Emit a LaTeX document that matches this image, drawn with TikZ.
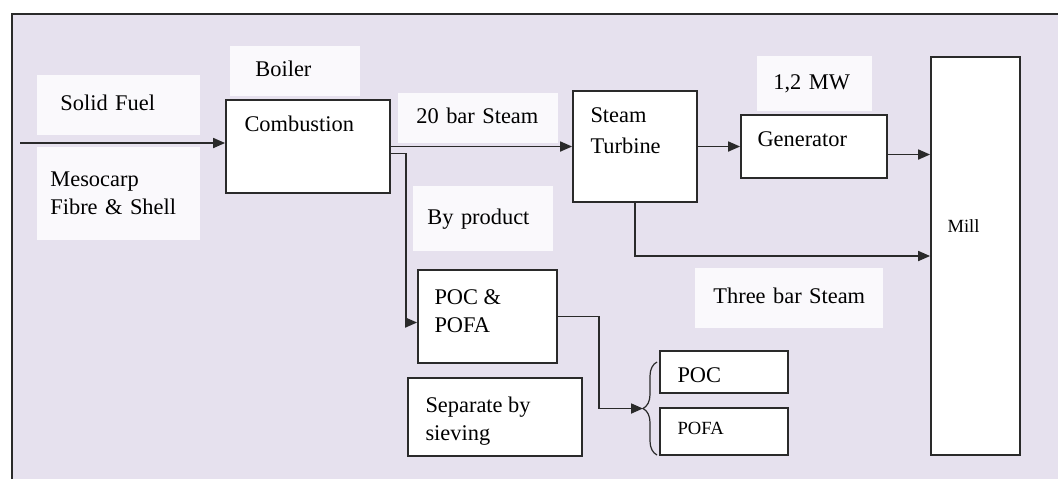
\documentclass[tikz,border=0pt]{standalone}
\usepackage{fontspec}
\setmainfont{Liberation Serif}
\usetikzlibrary{positioning, arrows.meta, decorations.pathreplacing}
\definecolor{paper}{HTML}{E6E1EE}
\definecolor{tagfill}{HTML}{FAF9FC}
\definecolor{edge}{HTML}{2A2A2A}
\newcommand{\smalltext}{\fontsize{9.3}{11}\selectfont}
\tikzset{
	box/.style={draw=edge, fill=white, line width=0.9pt, inner sep=0pt},
	txt/.style={inner sep=0pt, align=left},
	tag/.style={fill=tagfill, align=left, anchor=west, inner ysep=0pt},
	tagline/.style={tag, text height=8pt, text depth=2.5pt},
	flow/.style={draw=edge, line width=0.9pt, -{Triangle[length=6pt, width=5pt]}},
	curly/.style={draw=edge, line width=0.6pt, decorate, decoration={brace, amplitude=7pt}},
}

\begin{document}
\begin{tikzpicture}[x=0.5pt, y=-0.5pt, font=\fontsize{11.2}{14}\selectfont]
	\useasboundingbox (0,0) rectangle (1058,479);
	\fill[paper] (12,14) rectangle (1058,479);
	\draw[edge, line width=1pt] (12,479) -- (12,14) -- (1058,14);
	
	% white label patches
	\node[tagline, text width=58.5pt, inner xsep=11.5pt, minimum height=30pt] (fuel) at (37,104.5) {Solid Fuel};
	\node[tag, text width=68.5pt, inner xsep=6.5pt, minimum height=46.5pt] (meso) at (37,193.5) {Mesocarp\\Fibre \& Shell};
	\node[tagline, text width=40pt, inner xsep=12.5pt, minimum height=25pt] (boiler) at (230,70.5) {Boiler};
	\node[tagline, text width=62pt, inner xsep=9pt, minimum height=25pt] (hp) at (398,117.5) {20 bar Steam};
	\node[tagline, text width=56pt, inner xsep=7pt, minimum height=32.5pt] (byprod) at (413,218.5) {By product};
	\node[tagline, text width=41.5pt, inner xsep=8pt, minimum height=27.5pt] (power) at (757,83.5) {1,2 MW};
	\node[tagline, text width=76pt, inner xsep=9pt, minimum height=30pt] (lp) at (695,297.5) {Three bar Steam};
	
	% boxes
	\node[box, minimum width=82pt, minimum height=46.5pt] (comb) at (308,146.5) {};
	\node[box, minimum width=62pt, minimum height=55.5pt] (turb) at (635,146.5) {};
	\node[box, minimum width=73pt, minimum height=31.5pt] (gen) at (814,146.5) {};
	\node[box, minimum width=44.5pt, minimum height=199pt] (mill) at (975.5,256) {};
	\node[box, minimum width=69.5pt, minimum height=46.5pt] (pocfa) at (487.5,316.5) {};
	\node[box, minimum width=87pt, minimum height=39pt] (sieve) at (495,417) {};
	\node[box, minimum width=64pt, minimum height=21pt] (poc) at (724,372) {};
	\node[box, minimum width=64pt, minimum height=23.5pt] (pofa) at (724,431.5) {};
	
	\node[txt, below right=8pt and 9.5pt of comb.north west] (combtxt) {Combustion};
	\node[txt, below right=8.5pt and 9pt of turb.north west] (turbtxt) {Steam\\[1.5pt]Turbine};
	\node[txt, below right=8.5pt and 8.5pt of gen.north west] (gentxt) {Generator};
	\node[txt, font=\smalltext, below right=81.5pt and 8.5pt of mill.north west] (milltxt) {Mill};
	\node[txt, below right=10pt and 8.5pt of pocfa.north west] (pocfatxt) {POC \&\\POFA};
	\node[txt, below right=9.5pt and 9pt of sieve.north west] (sievetxt) {Separate by\\sieving};
	\node[txt, below right=8.5pt and 9pt of poc.north west] (poctxt) {POC};
	\node[txt, font=\smalltext, below right=7.5pt and 9pt of pofa.north west] (pofatxt) {POFA};
	
	\coordinate (src) at (20,143);
	\coordinate (g1) at ([yshift=-4pt]gen.east);
	\coordinate (brtop) at (657,362);
	\coordinate (brbot) at (657,455);
	\coordinate (brtip) at (643,408.5);
	
	\draw[flow] (src) -- (src -| comb.west);
	\draw[flow] (comb) -- (turb);
	\draw[flow] (turb) -- (gen);
	\draw[flow] (g1) -- (g1 -| mill.west);
	\draw[flow] (turb.south) |- (mill.west);
	\draw[flow] ([yshift=-3.5pt]comb.east) -- ++(15,0) |- ([yshift=-3pt]pocfa.west);
	\draw[flow] (pocfa.east) -- ++(41,0) |- (brtip);
	\draw[curly] (brbot) -- (brtop);
\end{tikzpicture}
\end{document}
